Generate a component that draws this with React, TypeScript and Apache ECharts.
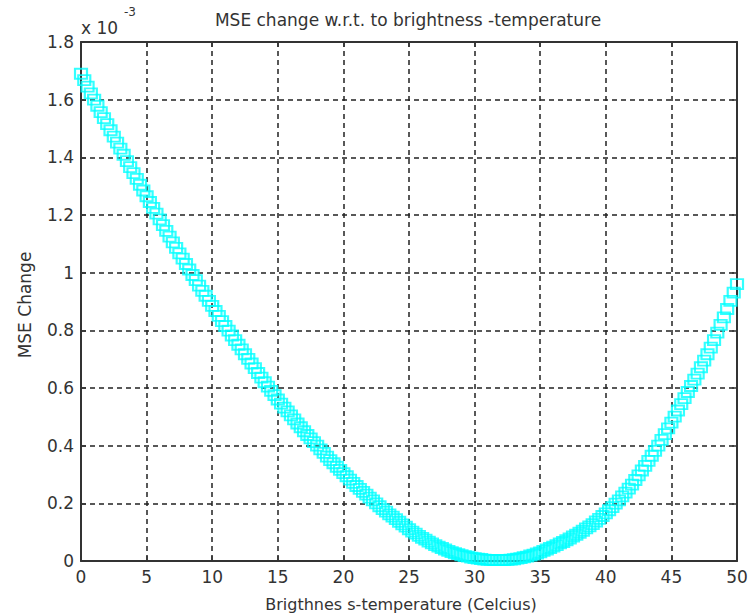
import React, { useEffect, useRef } from "react";
import * as echarts from "echarts";

// Brightness temperature (Celsius), step 0.25
const xStart = 0;
const xStep = 0.25;
// MSE change (x 10^-3)
const mseChange: number[] = [
  1.69, 1.668, 1.645, 1.622,
  1.6, 1.579, 1.557, 1.536,
  1.515, 1.494, 1.472, 1.451,
  1.43, 1.409, 1.387, 1.366,
  1.345, 1.325, 1.305, 1.285,
  1.265, 1.245, 1.225, 1.205,
  1.185, 1.165, 1.145, 1.125,
  1.105, 1.086, 1.067, 1.049,
  1.03, 1.011, 0.992, 0.974,
  0.955, 0.937, 0.92, 0.902,
  0.885, 0.867, 0.85, 0.832,
  0.815, 0.799, 0.782, 0.766,
  0.75, 0.734, 0.717, 0.701,
  0.685, 0.669, 0.652, 0.636,
  0.62, 0.605, 0.59, 0.575,
  0.56, 0.546, 0.532, 0.519,
  0.505, 0.491, 0.477, 0.464,
  0.45, 0.437, 0.425, 0.412,
  0.4, 0.387, 0.375, 0.362,
  0.35, 0.339, 0.327, 0.316,
  0.305, 0.294, 0.282, 0.271,
  0.26, 0.25, 0.24, 0.23,
  0.22, 0.21, 0.2, 0.19,
  0.18, 0.171, 0.162, 0.154,
  0.145, 0.136, 0.127, 0.119,
  0.11, 0.102, 0.095, 0.087,
  0.08, 0.074, 0.067, 0.061,
  0.055, 0.05, 0.045, 0.04,
  0.035, 0.031, 0.027, 0.024,
  0.02, 0.017, 0.015, 0.012,
  0.01, 0.008, 0.007, 0.005,
  0.004, 0.004, 0.003, 0.003,
  0.003, 0.003, 0.004, 0.005,
  0.006, 0.008, 0.01, 0.013,
  0.015, 0.019, 0.022, 0.026,
  0.03, 0.035, 0.04, 0.045,
  0.05, 0.055, 0.061, 0.066,
  0.072, 0.078, 0.085, 0.091,
  0.098, 0.105, 0.113, 0.12,
  0.128, 0.137, 0.146, 0.156,
  0.165, 0.176, 0.187, 0.199,
  0.21, 0.224, 0.237, 0.251,
  0.265, 0.281, 0.297, 0.314,
  0.33, 0.347, 0.365, 0.382,
  0.4, 0.42, 0.44, 0.46,
  0.48, 0.501, 0.522, 0.544,
  0.565, 0.586, 0.607, 0.629,
  0.65, 0.672, 0.695, 0.717,
  0.74, 0.766, 0.792, 0.819,
  0.845, 0.874, 0.902, 0.931,
  0.96,
];

const titleText = "MSE change w.r.t. to brightness -temperature";
const xAxisTitle = "Brigthnes s-temperature (Celcius)";
const yAxisTitle = "MSE Change";

const FONT = "'DejaVu Sans', sans-serif";
const TXT = "#333";

export default function App() {
  const ref = useRef<HTMLDivElement>(null);
  useEffect(() => {
    if (!ref.current) return;
    const chart = echarts.init(ref.current, null, { renderer: "svg" });
    const data = mseChange.map((v, i) => [xStart + i * xStep, v]);
    const gridLine = { show: true, lineStyle: { color: "#222", type: [5, 4] as any, width: 1.5 } };
    const axisLine = { show: true, onZero: false, lineStyle: { color: "#333", width: 2 } };
    const tick = { show: true, inside: true, length: 5, lineStyle: { color: "#333", width: 1.5 } };
    chart.setOption({
      animation: false,
      backgroundColor: "#fff",
      grid: { left: 81, right: 14, top: 42, bottom: 55 },
      xAxis: [
        {
          type: "value", min: 0, max: 50, interval: 5,
          axisLine, axisTick: tick, splitLine: gridLine,
          axisLabel: { color: TXT, fontSize: 17, fontFamily: FONT, margin: 7 },
        },
        {
          type: "value", position: "top", min: 0, max: 50, interval: 5,
          axisLine, axisTick: tick, splitLine: { show: false }, axisLabel: { show: false },
        },
      ],
      yAxis: [
        {
          type: "value", min: 0, max: 1.8, interval: 0.2,
          axisLine, axisTick: tick, splitLine: gridLine,
          axisLabel: { color: TXT, fontSize: 17, fontFamily: FONT, margin: 7 },
        },
        {
          type: "value", position: "right", min: 0, max: 1.8, interval: 0.2,
          axisLine, axisTick: tick, splitLine: { show: false }, axisLabel: { show: false },
        },
      ],
      series: [
        {
          type: "scatter",
          data,
          symbol: "rect",
          symbolSize: [12, 10],
          clip: false,
          itemStyle: { color: "rgba(0,0,0,0)", borderColor: "#00ffff", borderWidth: 2 },
        },
      ],
      graphic: [
        {
          type: "text", x: 408, y: 20,
          style: { text: titleText, fill: TXT, font: `17px ${FONT}`, align: "center", verticalAlign: "middle" },
        },
        {
          type: "text", x: 401, y: 604,
          style: { text: xAxisTitle, fill: TXT, font: `16px ${FONT}`, align: "center", verticalAlign: "middle" },
        },
        {
          type: "text", x: 25, y: 305, rotation: Math.PI / 2,
          style: { text: yAxisTitle, fill: TXT, font: `17px ${FONT}`, align: "center", verticalAlign: "middle" },
        },
        {
          type: "text", x: 81, y: 28,
          style: { text: "x 10", fill: TXT, font: `17px ${FONT}`, align: "left", verticalAlign: "middle" },
        },
        {
          type: "text", x: 124, y: 12,
          style: { text: "-3", fill: TXT, font: `12px ${FONT}`, align: "left", verticalAlign: "middle" },
        },
      ],
    });
    return () => chart.dispose();
  }, []);
  return <div ref={ref} style={{ width: 751, height: 616, position: "absolute", left: 0, top: 0 }} />;
}
